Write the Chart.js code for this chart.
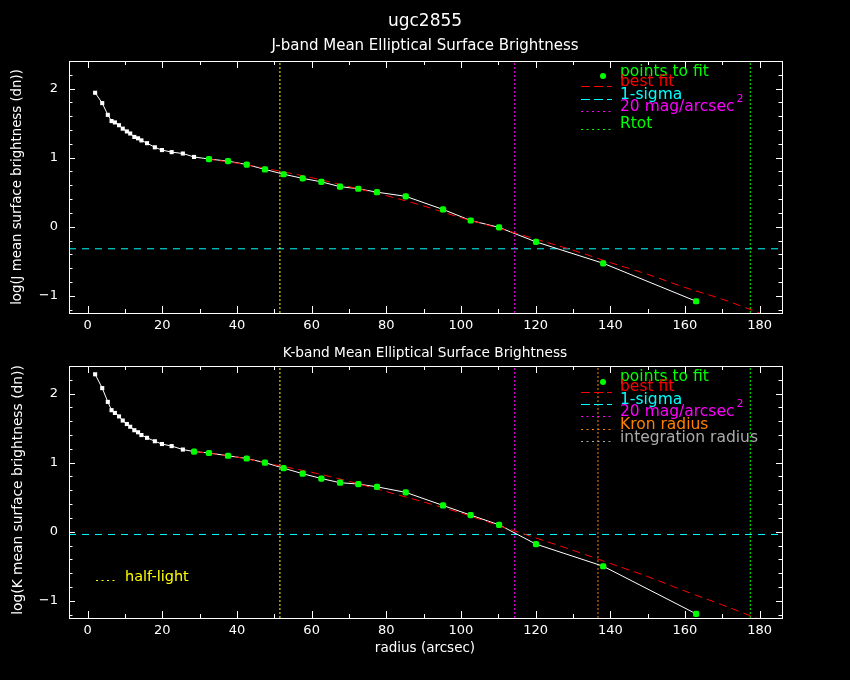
<!DOCTYPE html>
<html>
<head>
<meta charset="utf-8">
<script src="https://cdn.jsdelivr.net/npm/chart.js@4.4.1/dist/chart.umd.min.js"></script>
<style>
    html, body { margin: 0; padding: 0; background: #000; }
    #wrap { position: relative; width: 850px; height: 680px; background: #000; overflow: hidden; }
    canvas { position: absolute; left: 0; }
</style>
</head>
<body>
<div id="wrap">
    <canvas id="jband" width="850" height="340" style="top:0"></canvas>
    <canvas id="kband" width="850" height="340" style="top:340px"></canvas>
</div>
<script>
(function () {
    'use strict';

    // --- Data ---

    const radius = [2.0, 3.9, 5.4, 6.4, 7.3, 8.4, 9.4, 10.5, 11.4, 12.5, 13.5, 14.4, 15.9, 18.0, 19.9,
        22.5, 25.5, 28.5, 32.5, 37.6, 42.6, 47.5, 52.5, 57.6, 62.6, 67.6, 72.5, 77.5, 85.2, 95.2,
        102.6, 110.2, 120.1, 138.1, 163.0];

    const jProfile = [1.94, 1.79, 1.62, 1.53, 1.51, 1.47, 1.42, 1.38, 1.35, 1.30, 1.28, 1.25, 1.21, 1.15, 1.11,
        1.08, 1.06, 1.01, 0.98, 0.95, 0.90, 0.83, 0.76, 0.70, 0.65, 0.58, 0.55, 0.50, 0.44, 0.25,
        0.09, -0.01, -0.22, -0.53, -1.08];

    const kProfile = [2.28, 2.08, 1.88, 1.76, 1.72, 1.67, 1.61, 1.56, 1.52, 1.47, 1.44, 1.40, 1.36, 1.31, 1.27,
        1.24, 1.19, 1.16, 1.14, 1.10, 1.06, 1.00, 0.92, 0.84, 0.77, 0.71, 0.69, 0.65, 0.57, 0.38,
        0.24, 0.10, -0.18, -0.50, -1.19];

    // first profile point used in the fit
    const jFitFrom = 18;
    const kFitFrom = 17;

    const jFitR = [32, 40, 50, 60, 70, 80, 90, 100, 110, 120, 130, 140, 150, 160, 170, 180];
    const jFitY = [0.98, 0.92, 0.82, 0.71, 0.58, 0.45, 0.30, 0.13, -0.02, -0.18, -0.34, -0.52, -0.69, -0.88, -1.05, -1.25];

    const kFitR = [29, 40, 50, 60, 70, 80, 90, 100, 110, 120, 130, 140, 150, 160, 170, 180];
    const kFitY = [1.16, 1.08, 0.97, 0.86, 0.73, 0.58, 0.43, 0.27, 0.09, -0.09, -0.27, -0.46, -0.65, -0.86, -1.06, -1.27];

    const jSigma = -0.32;
    const kSigma = -0.04;

    const halfLight = 51.5;
    const mag20 = 114.4;
    const kronRadius = 136.7;
    const rTot = 177.5;

    const xRange = [-5, 186];
    const yRange = [-1.25, 2.4];
    const xTicks = [0, 20, 40, 60, 80, 100, 120, 140, 160, 180];
    const yTicks = [-1, 0, 1, 2];

    // --- Style ---

    const FONT = 'DejaVu Sans';
    const WHITE = '#ffffff';
    const GREEN = '#00ff00';
    const RED = '#ff0000';
    const CYAN = '#00ffff';
    const MAGENTA = '#ff00ff';
    const ORANGE = '#ff8000';
    const GREY = '#aaaaaa';
    const YELLOW = '#ffff00';

    function vline(x, color) {
        return {
            data: [{ x: x, y: yRange[0] }, { x: x, y: yRange[1] }],
            showLine: true, borderColor: color, borderWidth: 1, borderDash: [2, 2],
            pointRadius: 0,
        };
    }

    function hline(y, color) {
        return {
            data: [{ x: xRange[0], y: y }, { x: xRange[1], y: y }],
            showLine: true, borderColor: color, borderWidth: 1, borderDash: [7, 6],
            pointRadius: 0,
        };
    }

    // frame with inward ticks on all four sides, plus labels and key
    const panelText = {
        id: 'panelText',
        afterDraw(chart, args, o) {
            const c = chart.ctx;
            const a = chart.chartArea;
            const xs = chart.scales.x;
            const ys = chart.scales.y;
            c.save();
            c.strokeStyle = WHITE;
            c.lineWidth = 1;
            c.setLineDash([]);
            c.strokeRect(a.left + 0.5, a.top + 0.5, a.right - a.left, a.bottom - a.top);
            c.beginPath();
            for (let v = 0; v <= 180; v += 10) {
                const px = Math.round(xs.getPixelForValue(v)) + 0.5;
                const len = v % 20 === 0 ? 7 : 4;
                c.moveTo(px, a.bottom); c.lineTo(px, a.bottom - len);
                c.moveTo(px, a.top); c.lineTo(px, a.top + len);
            }
            for (let i = -6; i <= 12; i++) {
                const py = Math.round(ys.getPixelForValue(i / 5)) + 0.5;
                const len = i % 5 === 0 ? 6 : 3.5;
                c.moveTo(a.left, py); c.lineTo(a.left + len, py);
                c.moveTo(a.right, py); c.lineTo(a.right - len, py);
            }
            c.stroke();

            c.textBaseline = 'middle';
            o.texts.forEach(t => {
                c.font = t.size + 'px "' + FONT + '"';
                c.fillStyle = t.color || WHITE;
                c.textAlign = t.align || 'center';
                if (t.rotate) {
                    c.save();
                    c.translate(t.x, t.y);
                    c.rotate(-Math.PI / 2);
                    c.fillText(t.text, 0, 0);
                    c.restore();
                } else {
                    c.fillText(t.text, t.x, t.y);
                }
                if (t.sup) {
                    const w = c.measureText(t.text).width;
                    c.font = '11px "' + FONT + '"';
                    c.textAlign = 'left';
                    c.fillText(t.sup, t.x + w + 2, t.y - 8);
                }
            });

            o.key.forEach(k => {
                c.strokeStyle = k.color;
                c.fillStyle = k.color;
                if (k.kind === 'dot') {
                    c.beginPath();
                    c.arc(k.x0, k.y, 3, 0, Math.PI * 2);
                    c.fill();
                } else {
                    c.setLineDash(k.kind === 'dash' ? [9, 4] : [2, 3.5]);
                    c.beginPath();
                    c.moveTo(k.x0, k.y + 0.5);
                    c.lineTo(k.x1, k.y + 0.5);
                    c.stroke();
                    c.setLineDash([]);
                }
            });
            c.restore();
        },
    };

    function makePanel(id, cfg) {
        const pts = radius.map((r, i) => ({ x: r, y: cfg.profile[i] }));
        const fitPts = pts.slice(cfg.fitFrom);
        const fitLine = cfg.fitR.map((r, i) => ({ x: r, y: cfg.fitY[i] }));

        const datasets = [
            {
                data: fitPts, showLine: false, pointStyle: 'rectRounded', pointRadius: 3.6,
                pointBackgroundColor: GREEN, pointBorderWidth: 0,
            },
            {
                data: fitLine, showLine: true, borderColor: RED, borderWidth: 1, borderDash: [8, 5],
                pointRadius: 0, cubicInterpolationMode: 'monotone',
            },
            {
                data: pts, showLine: true, borderColor: WHITE, borderWidth: 1,
                pointStyle: 'rect', pointRadius: 2.9, pointBackgroundColor: WHITE, pointBorderWidth: 0,
            },
        ].concat(cfg.verticals.map(v => vline(v[0], v[1])), [hline(cfg.sigma, CYAN)]);

        return new Chart(document.getElementById(id), {
            type: 'scatter',
            data: { datasets: datasets },
            options: {
                responsive: false,
                animation: false,
                events: [],
                layout: { padding: { left: 0, right: 68, top: cfg.top, bottom: 0 } },
                plugins: {
                    legend: { display: false },
                    tooltip: { enabled: false },
                    panelText: { texts: cfg.texts, key: cfg.key },
                },
                scales: {
                    x: {
                        type: 'linear', min: xRange[0], max: xRange[1],
                        grid: { display: false, drawTicks: false },
                        border: { display: false },
                        ticks: {
                            autoSkip: false, maxRotation: 0, padding: 5,
                            color: WHITE, font: { family: FONT, size: 13 },
                        },
                        afterBuildTicks: s => { s.ticks = xTicks.map(v => ({ value: v })); },
                        afterFit: s => { s.height = cfg.xAxisH; },
                    },
                    y: {
                        type: 'linear', min: yRange[0], max: yRange[1],
                        grid: { display: false, drawTicks: false },
                        border: { display: false },
                        ticks: {
                            autoSkip: false, padding: 11,
                            color: WHITE, font: { family: FONT, size: 13 },
                            callback: v => String(v).replace('-', '\u2212'),
                        },
                        afterBuildTicks: s => { s.ticks = yTicks.map(v => ({ value: v })); },
                        afterFit: s => { s.width = 69; },
                    },
                },
            },
            plugins: [panelText],
        });
    }

    makePanel('jband', {
        profile: jProfile, fitFrom: jFitFrom, fitR: jFitR, fitY: jFitY, sigma: jSigma,
        verticals: [[halfLight, YELLOW], [mag20, MAGENTA], [rTot, GREEN]],
        top: 61, xAxisH: 27,
        texts: [
            { text: 'ugc2855', x: 425, y: 22, size: 17 },
            { text: 'J-band Mean Elliptical Surface Brightness', x: 425, y: 46, size: 15 },
            { text: 'log(J mean surface brightness (dn))', x: 18, y: 187, size: 13.3, rotate: true },
            { text: 'points to fit', x: 620, y: 72, size: 15.5, color: GREEN, align: 'left' },
            { text: 'best fit', x: 620, y: 82, size: 15.5, color: RED, align: 'left' },
            { text: '1-sigma', x: 620, y: 95, size: 15.5, color: CYAN, align: 'left' },
            { text: '20 mag/arcsec', x: 620, y: 107, size: 15.5, color: MAGENTA, align: 'left', sup: '2' },
            { text: 'Rtot', x: 620, y: 124, size: 15.5, color: GREEN, align: 'left' },
        ],
        key: [
            { kind: 'dot', color: GREEN, x0: 603, y: 76 },
            { kind: 'dash', color: RED, x0: 581, x1: 612, y: 86 },
            { kind: 'dash', color: CYAN, x0: 581, x1: 612, y: 99 },
            { kind: 'dot-line', color: MAGENTA, x0: 581, x1: 612, y: 111 },
            { kind: 'dot-line', color: GREEN, x0: 581, x1: 612, y: 129 },
        ],
    });

    makePanel('kband', {
        profile: kProfile, fitFrom: kFitFrom, fitR: kFitR, fitY: kFitY, sigma: kSigma,
        verticals: [[halfLight, YELLOW], [mag20, MAGENTA], [kronRadius, ORANGE], [rTot, GREEN]],
        top: 26, xAxisH: 62,
        texts: [
            { text: 'K-band Mean Elliptical Surface Brightness', x: 425, y: 13, size: 13.7 },
            { text: 'log(K mean surface brightness (dn))', x: 18, y: 150, size: 13.8, rotate: true },
            { text: 'radius (arcsec)', x: 425, y: 308, size: 13.5 },
            { text: 'points to fit', x: 620, y: 37, size: 15.5, color: GREEN, align: 'left' },
            { text: 'best fit', x: 620, y: 47, size: 15.5, color: RED, align: 'left' },
            { text: '1-sigma', x: 620, y: 60, size: 15.5, color: CYAN, align: 'left' },
            { text: '20 mag/arcsec', x: 620, y: 72, size: 15.5, color: MAGENTA, align: 'left', sup: '2' },
            { text: 'Kron radius', x: 620, y: 85, size: 15.5, color: ORANGE, align: 'left' },
            { text: 'integration radius', x: 620, y: 98, size: 15.5, color: GREY, align: 'left' },
            { text: 'half-light', x: 125, y: 237, size: 14.5, color: YELLOW, align: 'left' },
        ],
        key: [
            { kind: 'dot', color: GREEN, x0: 603, y: 42 },
            { kind: 'dash', color: RED, x0: 581, x1: 612, y: 52 },
            { kind: 'dash', color: CYAN, x0: 581, x1: 612, y: 64 },
            { kind: 'dot-line', color: MAGENTA, x0: 581, x1: 612, y: 76 },
            { kind: 'dot-line', color: ORANGE, x0: 581, x1: 612, y: 89 },
            { kind: 'dot-line', color: GREY, x0: 581, x1: 612, y: 101 },
            { kind: 'dot-line', color: YELLOW, x0: 96, x1: 118, y: 240 },
        ],
    });
})();
</script>
</body>
</html>
